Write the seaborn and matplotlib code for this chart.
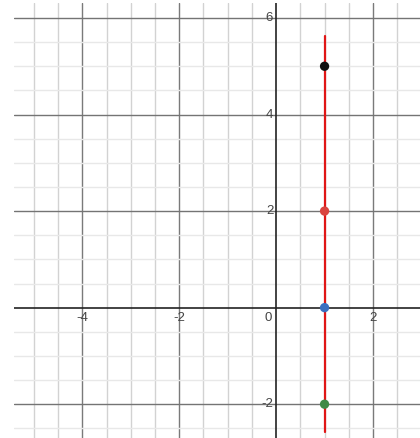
import matplotlib
matplotlib.use("Agg")
from matplotlib import pyplot as plt
import seaborn as sns
import numpy as np
import pandas as pd

# points on the vertical line x = 1
point_x = [1, 1, 1, 1]
point_y = [5, 2, 0, -2]
point_colors = ["#111111", "#d9443f", "#3a6fc0", "#3f8a46"]

# the vertical line
line_x = [1, 1]
line_y = [5.63, -2.58]

x_tick_vals = [-4, -2, 2]
y_tick_vals = [6, 4, 2, -2]

x_min, x_max = -5.41, 2.97
y_min, y_max = -2.70, 6.31

sns.set_style("white")
plt.rcParams["font.family"] = ["Liberation Sans", "DejaVu Sans"]

fig = plt.figure(figsize=(4.2, 4.38), dpi=100)
ax = fig.add_axes([14 / 420, 0, 406 / 420, 435 / 438])
ax.set_xlim(x_min, x_max)
ax.set_ylim(y_min, y_max)

# grid: minor every 0.5, major every 2
for v in np.arange(-5.0, 3.01, 0.5):
    if v == 0:
        continue
    major = abs(v % 2) < 1e-9
    ax.axvline(v, color="#7a7a7a" if major else "#d2d2d2", lw=1.0, zorder=0)
for v in np.arange(-2.5, 6.01, 0.5):
    if v == 0:
        continue
    major = abs(v % 2) < 1e-9
    ax.axhline(v, color="#747474" if major else "#e8e8e8", lw=1.0, zorder=0)
ax.axvline(0, color="#222222", lw=1.2, zorder=1)
ax.axhline(0, color="#222222", lw=1.2, zorder=1)

df_line = pd.DataFrame({"x": line_x, "y": line_y})
sns.lineplot(data=df_line, x="x", y="y", color="#e01616", lw=1.6,
             sort=False, estimator=None, ax=ax, zorder=3)

df_pts = pd.DataFrame({"x": point_x, "y": point_y, "c": point_colors})
sns.scatterplot(data=df_pts, x="x", y="y", hue="c", palette=point_colors,
                hue_order=point_colors, s=45, edgecolor="none",
                legend=False, ax=ax, zorder=4)

label_kw = dict(fontsize=9.5, color="#444444", zorder=2)
for v in x_tick_vals:
    ax.text(v, -0.08, f"{v:g}", ha="center", va="top", **label_kw)
for v in y_tick_vals:
    ax.text(-0.06, v, f"{v:g}", ha="right", va="center", **label_kw)
ax.text(-0.08, -0.08, "0", ha="right", va="top", **label_kw)

ax.set_xlabel("")
ax.set_ylabel("")
ax.set_xticks([])
ax.set_yticks([])
for s in ax.spines.values():
    s.set_visible(False)

fig.savefig("out.png", dpi=100)
